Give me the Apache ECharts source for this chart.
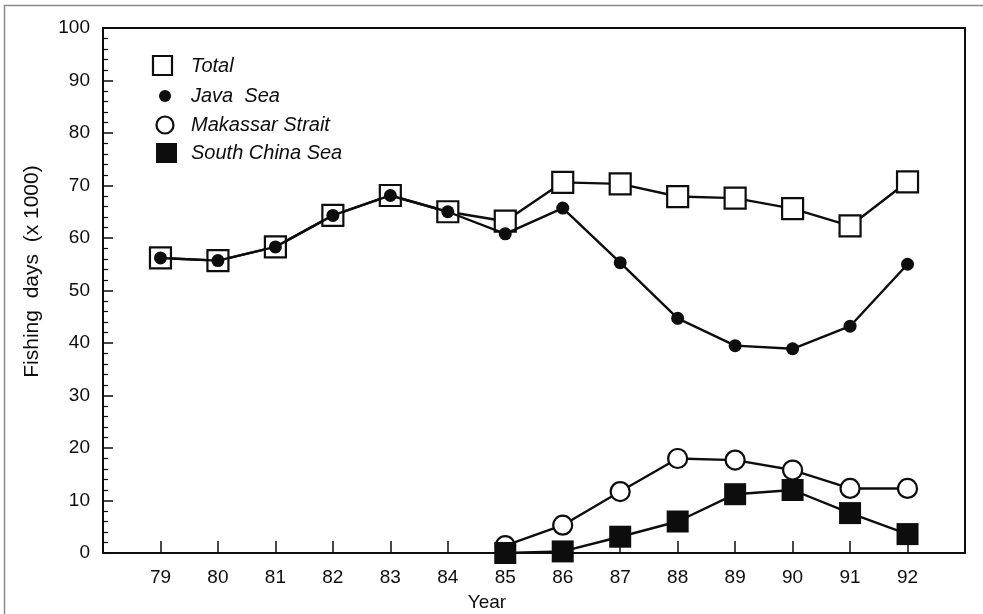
<!DOCTYPE html>
<html>
<head>
<meta charset="utf-8">
<title>Fishing days by area</title>
<script src="https://cdn.jsdelivr.net/npm/echarts@6/dist/echarts.min.js"></script>
<style>
  html, body { margin: 0; padding: 0; background: #fff; }
  #chart { width: 983px; height: 614px; }
</style>
</head>
<body>
<div id="chart"></div>
<script>
// Fishing effort (x 1000 days) per year, 1979-1992
const years = [79, 80, 81, 82, 83, 84, 85, 86, 87, 88, 89, 90, 91, 92];
const total = [56.2, 55.7, 58.3, 64.3, 68.1, 65.0, 63.2, 70.6, 70.3, 67.9, 67.6, 65.6, 62.3, 70.7];
const javaSea = [56.2, 55.7, 58.3, 64.3, 68.1, 65.0, 60.8, 65.7, 55.3, 44.7, 39.5, 38.9, 43.2, 55.0];
// Makassar Strait and South China Sea start in 1985
const makassarYears = [85, 86, 87, 88, 89, 90, 91, 92];
const makassar = [1.4, 5.3, 11.7, 18.0, 17.7, 15.8, 12.3, 12.3];
const southChinaSea = [0.0, 0.3, 3.1, 6.0, 11.2, 12.0, 7.6, 3.6];
const yTicks = [0, 10, 20, 30, 40, 50, 60, 70, 80, 90, 100];

const pairs = (xs, ys) => xs.map((x, i) => [x, ys[i]]);

const chart = echarts.init(document.getElementById('chart'), null, { renderer: 'canvas' });
const ink = '#0d0d0d';
const font = 'Arial, "Liberation Sans", Helvetica, sans-serif';

const legendItems = [
  { label: 'Total', y: 66 },
  { label: 'Java  Sea', y: 96 },
  { label: 'Makassar Strait', y: 125 },
  { label: 'South China Sea', y: 153 }
];

chart.setOption({
  animation: false,
  backgroundColor: '#fff',
  textStyle: { fontFamily: font, color: ink },
  grid: {
    left: 103, right: 18, top: 28, bottom: 61,
    outerBoundsMode: 'none', containLabel: false,
    show: true, borderColor: ink, borderWidth: 2, backgroundColor: 'transparent'
  },
  xAxis: {
    type: 'value', min: 78, max: 93, interval: 1,
    name: 'Year', nameLocation: 'middle', nameGap: 40,
    nameTextStyle: { fontSize: 19, color: ink, padding: [0, 94, 0, 0] },
    axisLine: { show: true, lineStyle: { color: ink, width: 2 } },
    axisTick: { show: true, inside: true, length: 12, lineStyle: { color: ink, width: 1.5 } },
    axisLabel: {
      fontSize: 19, color: ink, margin: 15,
      formatter: v => (years.indexOf(v) >= 0 ? String(v) : '')
    },
    splitLine: { show: false }
  },
  yAxis: {
    type: 'value', min: 0, max: 100, interval: 10,
    name: 'Fishing  days  (x 1000)', nameLocation: 'middle', nameGap: 60,
    nameTextStyle: { fontSize: 21, color: ink, padding: [0, 0, 0, 38] },
    axisLine: { show: true, lineStyle: { color: ink, width: 2 } },
    axisTick: { show: true, inside: true, length: 10, lineStyle: { color: ink, width: 1.5 } },
    minorTick: { show: true, splitNumber: 5, length: 5, lineStyle: { color: ink, width: 1.2 } },
    axisLabel: {
      fontSize: 19, color: ink, margin: 13,
      formatter: v => (yTicks.indexOf(v) >= 0 ? String(v) : '')
    },
    splitLine: { show: false }
  },
  series: [
    {
      name: 'Total', type: 'line', data: pairs(years, total), z: 2,
      symbol: 'rect', symbolSize: 21,
      lineStyle: { color: ink, width: 2.4 },
      itemStyle: { color: '#fff', borderColor: ink, borderWidth: 2.2 }
    },
    {
      name: 'Java Sea', type: 'line', data: pairs(years, javaSea), z: 3,
      symbol: 'circle', symbolSize: 13,
      lineStyle: { color: ink, width: 2.4 },
      itemStyle: { color: ink, borderColor: ink, borderWidth: 0 }
    },
    {
      name: 'Makassar Strait', type: 'line', data: pairs(makassarYears, makassar), z: 4,
      symbol: 'circle', symbolSize: 19,
      lineStyle: { color: ink, width: 2.4 },
      itemStyle: { color: '#fff', borderColor: ink, borderWidth: 2.2 }
    },
    {
      name: 'South China Sea', type: 'line', data: pairs(makassarYears, southChinaSea), z: 5,
      symbol: 'rect', symbolSize: 22,
      lineStyle: { color: ink, width: 2.4 },
      itemStyle: { color: ink, borderColor: ink, borderWidth: 0 }
    }
  ],
  graphic: [
    // scanned page border
    {
      type: 'polyline', silent: true,
      shape: { points: [[4.5, 620], [4.5, 5.5], [990, 5.5]] },
      style: { stroke: '#8a8a8a', lineWidth: 1.5, fill: null }
    },
    // key
    { type: 'rect', shape: { x: 153, y: 56, width: 19, height: 19 },
      style: { fill: '#fff', stroke: ink, lineWidth: 2.2 } },
    { type: 'circle', shape: { cx: 165, cy: 96, r: 6 }, style: { fill: ink } },
    { type: 'circle', shape: { cx: 165, cy: 125, r: 8.5 },
      style: { fill: '#fff', stroke: ink, lineWidth: 2.2 } },
    { type: 'rect', shape: { x: 156, y: 143, width: 21, height: 20 }, style: { fill: ink } },
    ...legendItems.map(it => ({
      type: 'text', x: 191, y: it.y,
      style: {
        text: it.label, fill: ink, font: 'italic 20px ' + font,
        textVerticalAlign: 'middle', verticalAlign: 'middle'
      }
    }))
  ]
});
</script>
</body>
</html>
